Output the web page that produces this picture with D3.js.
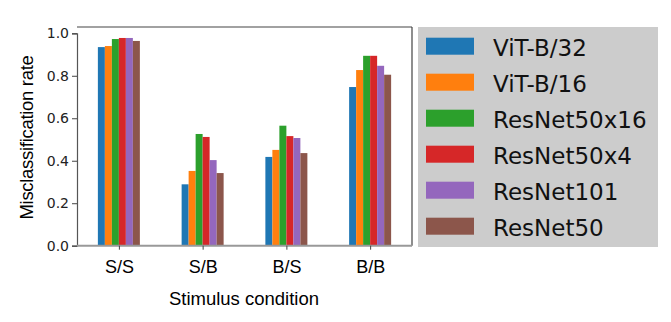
<!DOCTYPE html>
<html><head><meta charset="utf-8">
<script src="https://cdn.jsdelivr.net/npm/d3@7"></script>
<style>body{margin:0;background:#fff}svg{display:block}</style>
</head><body>
<svg id="c" width="671" height="322"></svg>
<script>
const categories = ["S/S", "S/B", "B/S", "B/B"];
const seriesNames = ["ViT-B/32", "ViT-B/16", "ResNet50x16", "ResNet50x4", "ResNet101", "ResNet50"];
const vitB32 = [0.935, 0.289, 0.418, 0.747];
const vitB16 = [0.940, 0.352, 0.451, 0.827];
const resnet50x16 = [0.973, 0.526, 0.565, 0.894];
const resnet50x4 = [0.978, 0.512, 0.516, 0.894];
const resnet101 = [0.978, 0.403, 0.507, 0.847];
const resnet50 = [0.964, 0.342, 0.436, 0.805];
const yTicks = [0.0, 0.2, 0.4, 0.6, 0.8, 1.0];
const colors = ["#1f77b4", "#ff7f0e", "#2ca02c", "#d62728", "#9467bd", "#8c564b"];
const seriesValues = [vitB32, vitB16, resnet50x16, resnet50x4, resnet101, resnet50];

const svg = d3.select("#c");
const L = 77, R = 412, T = 27, B = 245.7;
const x = d3.scalePoint().domain(categories).range([L, R]).padding(0.5);
const inner = d3.scaleBand().domain(seriesNames).range([-21, 21]).padding(0);
const y = d3.scaleLinear().domain([0, 1]).range([B, B - 212.4]);

// bars
seriesNames.forEach((s, si) => {
  svg.append("g").selectAll("rect").data(categories).join("rect")
    .attr("x", c => x(c) + inner(s))
    .attr("width", inner.bandwidth())
    .attr("y", (c, i) => y(seriesValues[si][i]))
    .attr("height", (c, i) => B - y(seriesValues[si][i]))
    .attr("fill", colors[si]);
});

// spines
svg.append("line").attr("x1", L).attr("x2", R).attr("y1", T).attr("y2", T).attr("stroke", "#444").attr("stroke-width", 1.2);
svg.append("line").attr("x1", R).attr("x2", R).attr("y1", T).attr("y2", B).attr("stroke", "#444").attr("stroke-width", 1.2);

// y axis
const yAxis = d3.axisLeft(y).tickValues(yTicks).tickFormat(d3.format(".1f")).tickSize(5).tickPadding(3);
const gy = svg.append("g").attr("transform", `translate(${L},0)`).call(yAxis);
gy.select(".domain").attr("stroke", "#555").attr("stroke-width", 1.2);
gy.selectAll(".tick line").attr("stroke", "#444");
gy.selectAll("text").attr("font-family", "DejaVu Sans").attr("font-size", 14).attr("fill", "#222");

// x axis
const xAxis = d3.axisBottom(x).tickSize(4).tickPadding(11);
const gx = svg.append("g").attr("transform", `translate(0,${B})`).call(xAxis);
gx.select(".domain").attr("stroke", "#999").attr("stroke-width", 2).attr("d", `M${L},0H${R}`);
gx.selectAll(".tick line").attr("stroke", "#444");
gx.selectAll("text").attr("font-family", "Liberation Sans, Arial").attr("font-size", 18).attr("fill", "#000");

// axis labels
svg.append("text").attr("x", 244).attr("y", 305).attr("text-anchor", "middle")
  .attr("font-family", "Liberation Sans, Arial").attr("font-size", 18.5).text("Stimulus condition");
svg.append("text").attr("transform", "translate(33,137.5) rotate(-90)").attr("text-anchor", "middle")
  .attr("font-family", "Liberation Sans, Arial").attr("font-size", 18.5).attr("letter-spacing", -0.3).text("Misclassification rate");

// legend
const lg = svg.append("g");
lg.append("rect").attr("x", 418).attr("y", 27).attr("width", 240).attr("height", 220).attr("fill", "#cccccc");
const ly = d3.scaleBand().domain(seriesNames).range([37.7 - 9.5, 37.7 - 9.5 + 36 * 6]);
seriesNames.forEach((s, i) => {
  const cy = ly(s) + 9.5 + 8.5;
  lg.append("rect").attr("x", 426).attr("y", cy - 8.5).attr("width", 48).attr("height", 17).attr("fill", colors[i]);
  lg.append("text").attr("x", 493).attr("y", cy + 9.5).attr("font-family", "DejaVu Sans").attr("font-size", 23).attr("fill", "#111").text(s);
});
</script>
</body></html>
